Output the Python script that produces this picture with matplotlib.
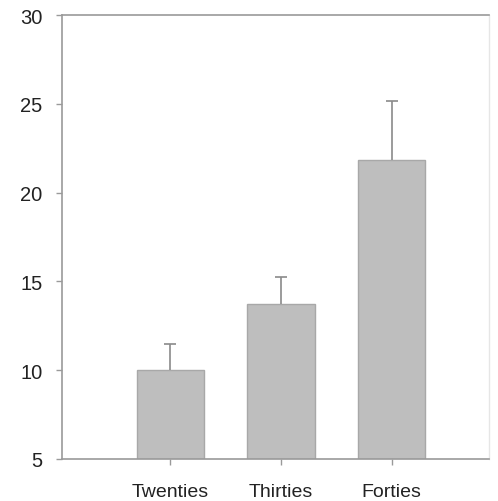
import matplotlib
matplotlib.use("Agg")
import matplotlib.pyplot as plt
import numpy as np

categories = ["Twenties", "Thirties", "Forties"]
values = [10.0, 13.7, 21.85]
errors = [1.45, 1.55, 3.3]
yticks = [5, 10, 15, 20, 25, 30]

plt.rcParams['font.family'] = ['Liberation Sans', 'DejaVu Sans']

fig = plt.figure(figsize=(4.98, 5.02), dpi=100)
ax = fig.add_axes([62/498, 42/502, (489-62)/498, (460-16)/502])

x = np.arange(len(categories))
lower = np.zeros(len(errors))
ax.bar(x, [v - 5 for v in values], bottom=5, width=0.61, color="#bebebe",
       edgecolor="#a8a8a8", linewidth=1.0, zorder=2)
eb = ax.errorbar(x, values, yerr=[lower, errors], fmt="none", ecolor="#8a8a8a",
                 elinewidth=1.2, capsize=4, capthick=1.2, zorder=3)
# keep only the upper caps
caplines = eb[1]
if len(caplines) == 2:
    caplines[0].remove()

ax.set_xlim(-0.98, 2.88)
ax.set_ylim(5, 30)
ax.set_yticks(yticks)
ax.set_yticklabels([str(t) for t in yticks])
ax.set_xticks(x)
ax.set_xticklabels(categories)

for s in ["left", "bottom", "top"]:
    ax.spines[s].set_color("#9a9a9a")
    ax.spines[s].set_linewidth(1.2)
ax.spines["right"].set_color("#e6e6e6")
ax.spines["right"].set_linewidth(1.0)

ax.tick_params(axis="y", direction="out", length=4, width=1.0, color="#9a9a9a",
               labelsize=14.5, labelcolor="#222222", pad=10)
ax.tick_params(axis="x", direction="out", length=4, width=1.0, color="#9a9a9a",
               labelsize=14, labelcolor="#222222", pad=13)

fig.savefig("out.png", dpi=100)
